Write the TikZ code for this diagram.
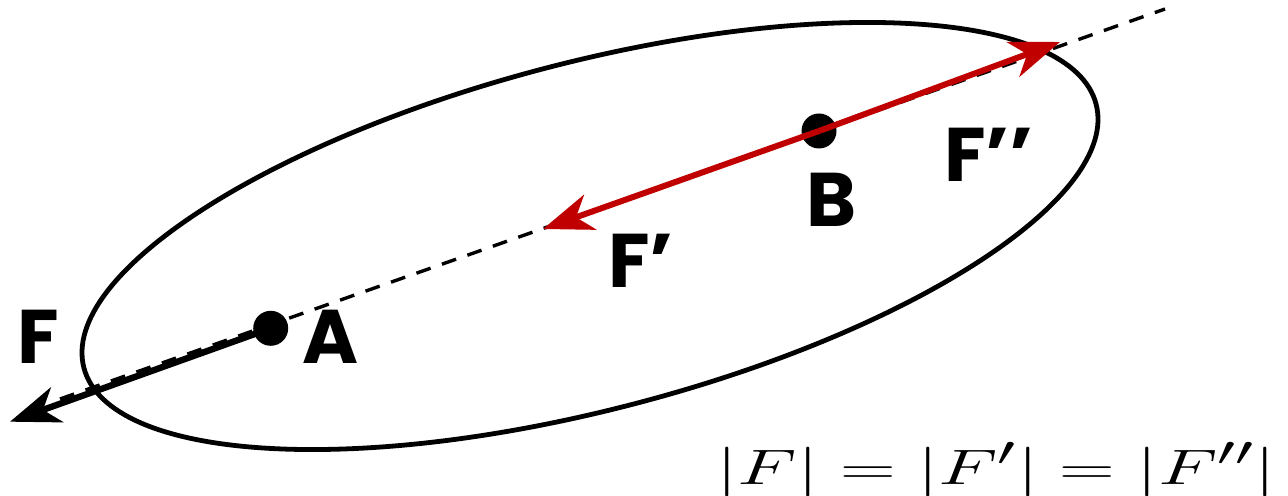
\documentclass[tikz,border=0pt]{standalone}
\usepackage{fontspec}
\newfontfamily\labfont{Poppins}
\usetikzlibrary{arrows.meta}
\definecolor{fred}{RGB}{192,0,0}
\tikzset{
  ell/.style={line width=2.4pt},
  dashline/.style={line width=1.7pt, dash pattern=on 7.5pt off 6pt},
  force/.style={line width=3.2pt, -{Stealth[length=25pt,width=18.5pt,inset=7.5pt]}},
  redforce/.style={force, draw=fred, fill=fred, line width=3pt},
  dot/.style={circle, fill=black, inner sep=0pt, minimum size=17.5pt},
  lab/.style={anchor=base west, inner sep=0pt, font=\labfont\bfseries\fontsize{38}{42}\selectfont},
}
\begin{document}
\begin{tikzpicture}[x=0.5pt,y=-0.5pt]
\useasboundingbox (0,0) rectangle (1288,496);
% ellipse
\draw[ell, rotate around={14.6:(590,236)}] (590,236) ellipse [x radius=261.5pt, y radius=86.8pt];
% line of action
\coordinate (ds) at (60,399);
\coordinate (de) at (1165,9);
\draw[dashline] (ds) -- (de);
% points
\node[dot] (A) at (270.7,328.3) {};
\node[dot] (B) at (819,131) {};
% free ends of forces
\coordinate (Ftip) at (10,421.7);
\coordinate (Fptip) at (543,229);
\coordinate (Fpptip) at (1060,42);
\draw[force] (A.center) -- (Ftip);
\draw[redforce] (B.center) -- (Fptip);
\draw[redforce] (B.center) -- (Fpptip);
% labels
\node[lab] (lF) at (17,363) {F};
\node[lab] (lA) at (302,363) {A};
\node[lab] (lB) at (806,227) {B};
\node[lab] (lFp) at (608,287) {F’};
\node[lab] (lFpp) at (944,182) {F’’};
% equation
\node[anchor=base west, inner sep=0pt] (eq) at (716,484)
  {\fontsize{24.88}{30}\selectfont\scalebox{1.55}[1]{$|F| = |F'| = |F''|$}};
\end{tikzpicture}
\end{document}
